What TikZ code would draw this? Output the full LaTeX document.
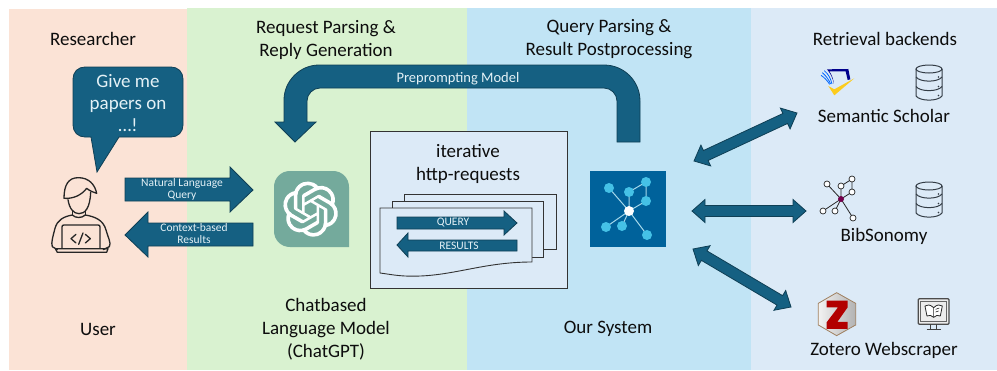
\documentclass[tikz,border=0pt]{standalone}
\usepackage{fontspec}
\setmainfont{Carlito}
\usetikzlibrary{calc,svg.path}
\definecolor{bandA}{HTML}{FBE3D6}
\definecolor{bandB}{HTML}{D9F2D0}
\definecolor{bandC}{HTML}{C1E4F5}
\definecolor{bandD}{HTML}{DCEAF7}
\definecolor{blk}{HTML}{156082}
\definecolor{blkline}{HTML}{0F3F55}
\definecolor{pale}{HTML}{E4F1F6}
\definecolor{gptbg}{HTML}{74AA9C}
\definecolor{netbg}{HTML}{00629B}
\definecolor{netnode}{HTML}{45C1E6}
\definecolor{netedge}{HTML}{A5D8EA}
\definecolor{ink}{HTML}{333C45}
\tikzset{
  lab/.style={font=\fontsize{19}{23}\selectfont,align=center,inner sep=0pt,text=black!95},
  onblock/.style={font=\fontsize{11.5}{12}\selectfont,align=center,inner sep=0pt,text=pale},
  block/.style={fill=blk,draw=blkline,line width=0.8pt,line join=miter},
  icon/.style={draw=black!85,line width=1.3pt,line cap=round,line join=round},
  dbline/.style={draw=ink,line width=1pt},
  page/.style={draw=black!80,line width=0.9pt,fill=bandD},
}
\newcommand{\dblarrow}[2]{%
  \draw[block] (#1)
   -- ($(#1)!13pt!(#2)!11.5pt!90:(#2)$)
   -- ($(#1)!13pt!(#2)!5.5pt!90:(#2)$)
   -- ($(#2)!13pt!(#1)!5.5pt!-90:(#1)$)
   -- ($(#2)!13pt!(#1)!11.5pt!-90:(#1)$)
   -- (#2)
   -- ($(#2)!13pt!(#1)!11.5pt!90:(#1)$)
   -- ($(#2)!13pt!(#1)!5.5pt!90:(#1)$)
   -- ($(#1)!13pt!(#2)!5.5pt!-90:(#2)$)
   -- ($(#1)!13pt!(#2)!11.5pt!-90:(#2)$)
   -- cycle;}
\newcommand{\dbicon}[2]{%
  \begin{scope}[shift={(#1,#2)}]
    \draw[dbline] (13,4) ellipse [x radius=13,y radius=4];
    \draw[dbline] (0,4) -- (0,31) .. controls (4,36.5) and (22,36.5) .. (26,31) -- (26,4);
    \draw[dbline] (0,12) .. controls (4,17.5) and (22,17.5) .. (26,12);
    \draw[dbline] (0,21.5) .. controls (4,27) and (22,27) .. (26,21.5);
    \fill[ink] (22.5,12) circle (0.9) (22.5,21.5) circle (0.9) (22.5,30.5) circle (0.9);
  \end{scope}}
\begin{document}
\begin{tikzpicture}[x=1pt,y=-1pt]
\useasboundingbox (0,0) rectangle (997,370);
% bands
\fill[bandA] (9,9) rectangle (187,370);
\fill[bandB] (187,8) rectangle (467,370);
\fill[bandC] (467,8) rectangle (751,370);
\fill[bandD] (751,8) rectangle (997,370);
% headings
\node[lab] (researcher) at (93,39) {Researcher};
\node[lab] (reqparse) at (326,39.5) {Request Parsing \&\\Reply Generation};
\node[lab] (qparse) at (609,39.5) {Query Parsing \&\\Result Postprocessing};
\node[lab] (retrieval) at (885,39) {Retrieval backends};
\node[lab] (user) at (98,329) {User};
\node[lab] (chatbased) at (326,329) {Chatbased\\Language Model\\(ChatGPT)};
\node[lab] (oursys) at (608,329) {Our System};
\node[lab] (semsch) at (884,116) {Semantic Scholar};
\node[lab] (bibson) at (884,236) {BibSonomy};
\node[lab] (zotweb) at (884,350) {Zotero Webscraper};
% speech bubble
\draw[block] (85,67) -- (171,67) .. controls (178,67) and (183,72) .. (183,79)
  -- (183,125) .. controls (183,132) and (178,137) .. (171,137)
  -- (119,137) -- (97,172) -- (91,137) -- (85,137)
  .. controls (78,137) and (73,132) .. (73,125) -- (73,79)
  .. controls (73,72) and (78,67) .. (85,67) -- cycle;
\node[lab,text=pale,font=\fontsize{19}{22}\selectfont] (bubble) at (128,103) {Give me\\papers on\\…!};
% person icon
\begin{scope}[shift={(40,165)},x=0.3333pt,y=-0.3333pt]
  \draw[icon] (72,100) .. controls (72,60) and (85,38) .. (115,38)
     .. controls (148,38) and (165,60) .. (170,85)
     .. controls (160,82) and (150,78) .. (140,70)
     .. controls (125,90) and (100,102) .. (72,100) -- cycle;
  \draw[icon] (84,104) .. controls (88,130) and (100,146) .. (117,146)
     .. controls (135,146) and (150,130) .. (152,82);
  \draw[icon] (97,136) -- (97,150) (136,136) -- (136,150);
  \draw[icon] (97,150) .. controls (107,160) and (125,160) .. (136,150);
  \draw[icon] (97,150) .. controls (70,155) and (52,165) .. (45,190)
     .. controls (40,210) and (32,235) .. (37,245) -- (52,254);
  \draw[icon] (136,150) .. controls (165,155) and (190,165) .. (198,195)
     .. controls (203,215) and (215,235) .. (208,245) -- (190,254);
  \draw[icon] (66,250) -- (66,186) .. controls (66,182) and (68,180) .. (72,180)
     -- (174,180) .. controls (178,180) and (180,182) .. (180,186) -- (180,250);
  \draw[icon] (46,251) -- (204,251) -- (200,262) -- (52,262) -- cycle;
  \draw[icon] (108,208) -- (93,221) -- (108,234);
  \draw[icon] (136,208) -- (151,221) -- (136,234);
  \draw[icon] (129,204) -- (116,238);
\end{scope}
% user <-> gpt block arrows
\draw[block] (125,178) -- (230,178) -- (230,167) -- (253,190) -- (230,212) -- (230,201) -- (125,201) -- cycle;
\node[onblock] (nlq) at (182,189.5) {Natural Language\\Query};
\draw[block] (253,223) -- (148,223) -- (148,212) -- (125,235) -- (148,257) -- (148,246) -- (253,246) -- cycle;
\node[onblock] (cbr) at (194,233.5) {Context-based\\Results};
% ChatGPT logo
\fill[gptbg] (290,171) -- (333,171) .. controls (342,171) and (349,178) .. (349,187)
  -- (349,247) -- (290,247) .. controls (281,247) and (274,240) .. (274,231)
  -- (274,187) .. controls (274,178) and (281,171) .. (290,171) -- cycle;
\begin{scope}[shift={(283,181.5)},scale=2.3,yscale=-1]
\fill[white,even odd rule] svg {M 22.2819 9.8211 A 5.9847 5.9847 0 0 0 21.7662 4.9103 A 6.0462 6.0462 0 0 0 15.2564 2.0103 A 6.0651 6.0651 0 0 0 4.9807 4.1818 A 5.9847 5.9847 0 0 0 0.983 7.0818 A 6.0462 6.0462 0 0 0 1.7257 14.1784 A 5.98 5.98 0 0 0 2.2367 19.0891 A 6.051 6.051 0 0 0 8.7513 21.9892 A 5.9847 5.9847 0 0 0 13.2599 24 A 6.0557 6.0557 0 0 0 19.0317 19.7942 A 5.9894 5.9894 0 0 0 23.0294 16.8941 A 6.0557 6.0557 0 0 0 22.2819 9.8211 Z
M 13.2599 22.4292 a 4.4755 4.4755 0 0 1 -2.8764 -1.0408 l 0.1419 -0.0804 l 4.7783 -2.7582 a 0.7948 0.7948 0 0 0 0.3927 -0.6813 v -6.7369 l 2.02 1.1686 l 0.038 0.052 v 5.5826 a 4.504 4.504 0 0 1 -4.4945 4.4944 Z
M 3.5992 18.3038 a 4.4708 4.4708 0 0 1 -0.5346 -3.0137 l 0.142 0.0852 l 4.783 2.7582 a 0.7712 0.7712 0 0 0 0.7806 0 l 5.8428 -3.3685 v 2.3324 l -0.0332 0.0615 L 9.74 19.9502 A 4.4992 4.4992 0 0 1 3.5992 18.3038 Z
M 2.3408 7.8956 a 4.485 4.485 0 0 1 2.3655 -1.9728 V 11.6 a 0.7664 0.7664 0 0 0 0.3879 0.6765 l 5.8144 3.3543 l -2.0201 1.1685 l -0.071 0 l -4.8303 -2.7865 A 4.504 4.504 0 0 1 2.3408 7.8956 Z
M 18.9371 11.7514 L 13.1038 8.364 L 15.1192 7.2 l 0.071 0 l 4.8303 2.7913 a 4.4944 4.4944 0 0 1 -0.6765 8.1042 v -5.6772 a 0.79 0.79 0 0 0 -0.407 -0.667 Z
M 20.9478 8.7283 l -0.142 -0.0852 l -4.7735 -2.7818 a 0.7759 0.7759 0 0 0 -0.7854 0 L 9.409 9.2297 V 6.8974 l 0.0284 -0.0615 l 4.8303 -2.7866 a 4.4992 4.4992 0 0 1 6.6802 4.66 Z
M 8.3065 12.863 l -2.02 -1.1638 l -0.038 -0.0567 V 6.0742 a 4.4992 4.4992 0 0 1 7.3757 -3.4537 l -0.142 0.0805 L 8.704 5.459 a 0.7948 0.7948 0 0 0 -0.3927 0.6813 Z
M 9.4041 10.4976 l 2.602 -1.4998 l 2.6069 1.4998 v 2.9994 l -2.5974 1.4997 l -2.6099 -1.4997 Z};
\end{scope}
% preprompting arrow
\draw[block] (617,142) -- (617,101) .. controls (617,94) and (611,88) .. (604,88)
  -- (320,88) .. controls (313,88) and (307,94) .. (307,101) -- (307,122) -- (316,122)
  -- (295,142) -- (275,122) -- (284,122) -- (284,100)
  .. controls (284,81) and (300,65) .. (319,65) -- (604,65)
  .. controls (624,65) and (640,81) .. (640,101) -- (640,142) -- cycle;
\node[onblock,font=\fontsize{14.5}{15}\selectfont] (prep) at (458,79) {Preprompting Model};
% centre box
\draw[draw=black!80,line width=1pt,fill=bandD] (370,131) rectangle (567,288);
\node[lab] (iter) at (468,163.5) {iterative\\http-requests};
\draw[page] (404,194) rectangle (556,249);
\draw[page] (392,201) rectangle (543,257);
\draw[page] (380,208) -- (532,208) -- (532,262)
  .. controls (480,262) and (450,278) .. (405,276) .. controls (395,275.5) and (388,274) .. (380,273) -- cycle;
\draw[block] (397,217) -- (504,217) -- (504,211) -- (517,223) -- (504,235) -- (504,229) -- (397,229) -- cycle;
\node[onblock] (query) at (453,223) {QUERY};
\draw[block] (517,240) -- (408,240) -- (408,233) -- (397,245) -- (408,257) -- (408,251) -- (517,251) -- cycle;
\node[onblock] (results) at (459,246) {RESULTS};
% our system logo
\fill[netbg] (590,171) rectangle (666,247);
\coordinate (nc) at (629,211);
\coordinate (n1) at (609,188);
\coordinate (n2) at (629,192);
\coordinate (n3) at (646,182);
\coordinate (n4) at (646,201);
\coordinate (n5) at (606,227);
\coordinate (n6) at (622,226);
\coordinate (n7) at (647,235);
\draw[netedge,line width=1pt] (nc)--(n1) (nc)--(n2) (nc)--(n4) (nc)--(n5) (nc)--(n6) (nc)--(n7) (n2)--(n3)--(n4);
\fill[netnode] (n1) circle (5) (n2) circle (5) (n3) circle (5) (n4) circle (5) (n5) circle (5) (n6) circle (5) (n7) circle (5);
\fill[white] (nc) circle (5);
% double arrows
\coordinate (sysA) at (694,161);
\coordinate (ssA) at (797,113);
\coordinate (sysB) at (692,211);
\coordinate (bsA) at (806,211);
\coordinate (sysC) at (693,249);
\coordinate (zoA) at (791,307);
\dblarrow{sysA}{ssA}
\dblarrow{sysB}{bsA}
\dblarrow{sysC}{zoA}
% semantic scholar logo
\begin{scope}[shift={(680,20)},x=0.3333pt,y=-0.3333pt]
  \fill[yellow!60!orange!90] (445,198) -- (463,208) -- (523,175) -- (463,226) -- cycle;
  \fill[blue!55!black] (441,148) -- (505,147) -- (511,178) -- (503,180) -- (497,154) -- (448,154)
     .. controls (456,165) and (460,178) .. (462,192) .. controls (458,175) and (452,160) .. (441,148) -- cycle;
  \draw[blue!60!cyan,line width=0.8pt] (433,152) .. controls (445,162) and (452,175) .. (456,192);
  \draw[blue!60!cyan,line width=0.8pt] (427,158) .. controls (438,167) and (447,180) .. (452,192);
  \draw[blue!60!cyan,line width=0.8pt] (423,166) .. controls (433,172) and (442,182) .. (449,193);
\end{scope}
\dbicon{916}{65}
\dbicon{916}{182}
% bibsonomy icon
\coordinate (bc) at (841,199);
\coordinate (b1) at (827,184);
\coordinate (b2) at (841,186);
\coordinate (b3) at (852,179);
\coordinate (b4) at (852,192);
\coordinate (b5) at (823,211);
\coordinate (b6) at (835,211);
\coordinate (b7) at (853,218);
\draw[black!85,line width=0.8pt] (bc)--(b1) (bc)--(b2) (bc)--(b4) (bc)--(b5) (bc)--(b6) (bc)--(b7) (b2)--(b3)--(b4);
\filldraw[fill=white,draw=black!85,line width=0.7pt] (b1) circle (3) (b2) circle (3) (b3) circle (3) (b4) circle (3) (b5) circle (3) (b6) circle (3) (b7) circle (3);
\fill[red!60!blue!75!black] (bc) circle (3);
% zotero logo
\begin{scope}[shift={(680,170)},x=0.3333pt,y=-0.3333pt]
  \draw[draw=brown!50!gray,line width=0.8pt,left color=gray!10,right color=gray!60]
    (470,368) -- (527,400) -- (527,465) -- (470,497) -- (415,465) -- (415,400) -- cycle;
  \fill[red!70!black] (440,392) -- (503,392) -- (503,412) -- (472,456) -- (503,456) -- (503,477)
    -- (440,477) -- (440,457) -- (474,412) -- (440,412) -- cycle;
  % monitor
  \draw[draw=black!70,fill=gray!15,line width=1.2pt,rounded corners=1pt] (715,386) rectangle (807,463);
  \draw[draw=black!60,line width=0.6pt] (722,393) rectangle (800,455);
  \draw[black!75,line width=0.9pt] (752,463) -- (752,478) (770,463) -- (770,478) (740,478) -- (782,478);
  \draw[black!85,line width=0.8pt,line join=round,fill=white]
    (761,413) .. controls (750,403) and (742,403) .. (735,408) -- (741,438) .. controls (748,434) and (755,436) .. (761,442)
    .. controls (767,436) and (775,434) .. (781,438) -- (787,408) .. controls (780,403) and (772,403) .. (761,413) -- cycle;
  \draw[black!85,line width=0.6pt] (761,413) -- (761,442) (767,418) -- (778,414) (767,426) -- (776,423);
\end{scope}
\end{tikzpicture}
\end{document}
